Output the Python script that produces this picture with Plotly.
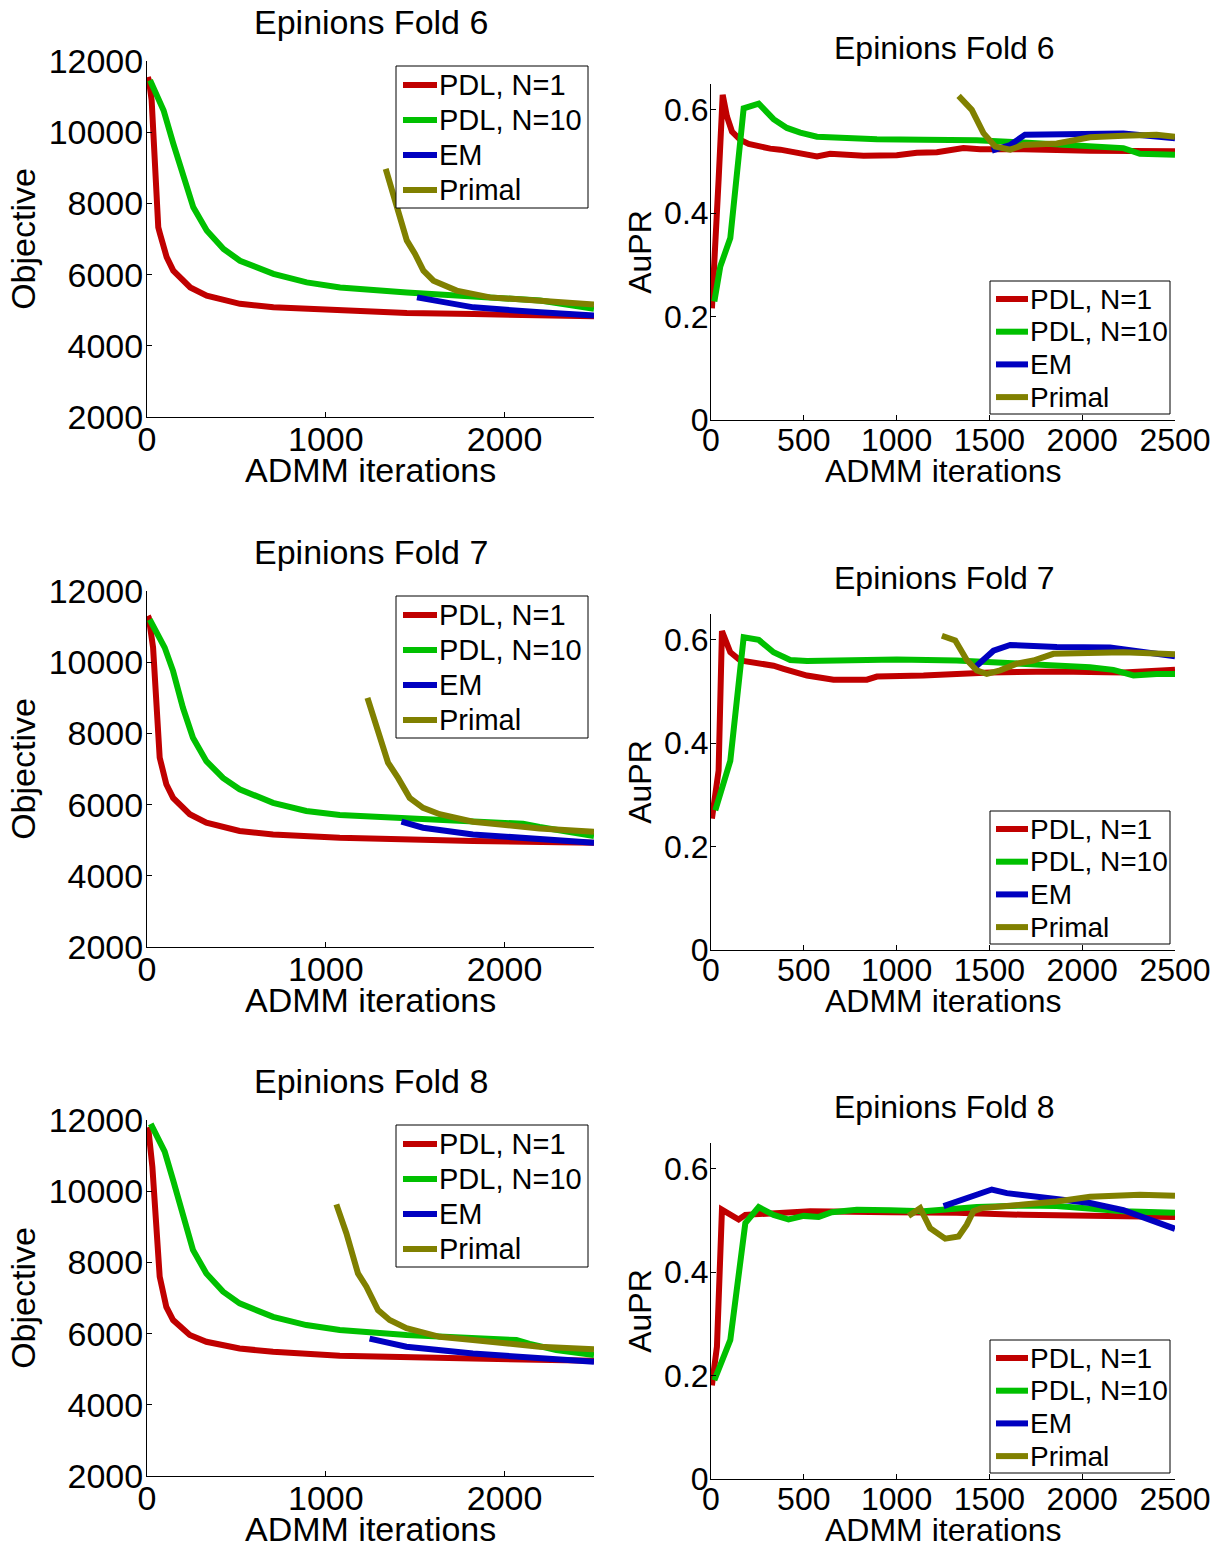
import plotly.graph_objects as go

# ---------------- data ----------------
SERIES_NAMES = ["PDL, N=1", "PDL, N=10", "EM", "Primal"]
COLORS = ["#c00000", "#00c000", "#0000c0", "#808000"]
FOLDS = ["Epinions Fold 6", "Epinions Fold 7", "Epinions Fold 8"]
X_TITLE = "ADMM iterations"
Y_TITLES = ["Objective", "AuPR"]

OBJ_TICKS = [2000, 4000, 6000, 8000, 10000, 12000]
OBJ_TICKLABELS = ["2000", "4000", "6000", "8000", "10000", "12000"]
OBJ_XTICKS = [0, 1000, 2000]
AUPR_TICKS = [0, 0.2, 0.4, 0.6]
AUPR_TICKLABELS = ["0", "0.2", "0.4", "0.6"]
AUPR_XTICKS = [0, 500, 1000, 1500, 2000, 2500]

# ---- Fold 6, objective ----
OBJ6_PDL1_IT = [5, 11, 26, 45, 54, 63, 73, 110, 147, 242, 334, 520, 707, 1080, 1453, 1826, 2500]
OBJ6_PDL1 = [11550, 11450, 10900, 9020, 8080, 7330, 7140, 6490, 6110, 5640, 5410, 5180, 5080, 4990, 4920, 4890, 4830]
OBJ6_PDL10_IT = [17, 93, 147, 203, 259, 334, 428, 520, 707, 893, 1080, 1453, 1826, 2199, 2500]
OBJ6_PDL10 = [11460, 10610, 9680, 8740, 7890, 7240, 6720, 6390, 6020, 5780, 5640, 5500, 5380, 5270, 5040]
OBJ6_EM_IT = [1510, 1826, 2199, 2500]
OBJ6_EM = [5360, 5080, 4940, 4850]
OBJ6_PRIMAL_IT = [1335, 1396, 1453, 1499, 1546, 1602, 1732, 1918, 2199, 2500]
OBJ6_PRIMAL = [8970, 7890, 6960, 6580, 6110, 5830, 5550, 5360, 5250, 5160]

# ---- Fold 7, objective ----
OBJ7_PDL1_IT = [5, 10, 34, 49, 71, 108, 146, 239, 332, 518, 705, 1078, 1451, 1823, 2500]
OBJ7_PDL1 = [11300, 11250, 10410, 9000, 7320, 6570, 6190, 5730, 5490, 5260, 5160, 5070, 5020, 4980, 4930]
OBJ7_PDL10_IT = [15, 99, 146, 201, 257, 332, 425, 518, 705, 891, 1078, 1451, 1823, 2103, 2196, 2500]
OBJ7_PDL10 = [11200, 10410, 9750, 8720, 7880, 7220, 6750, 6430, 6050, 5820, 5710, 5610, 5520, 5460, 5370, 5120]
OBJ7_EM_IT = [1423, 1544, 1823, 2196, 2500]
OBJ7_EM = [5520, 5350, 5160, 5020, 4930]
OBJ7_PRIMAL_IT = [1233, 1283, 1348, 1404, 1469, 1544, 1637, 1823, 2010, 2196, 2500]
OBJ7_PRIMAL = [9000, 8160, 7180, 6750, 6190, 5910, 5730, 5520, 5420, 5330, 5240]

# ---- Fold 8, objective ----
OBJ8_PDL1_IT = [5, 7, 30, 49, 71, 108, 146, 239, 332, 518, 705, 1078, 1451, 1823, 2500]
OBJ8_PDL1 = [11800, 11770, 10690, 9000, 7600, 6750, 6380, 5960, 5770, 5580, 5490, 5380, 5330, 5300, 5240]
OBJ8_PDL10_IT = [21, 99, 146, 201, 257, 332, 425, 518, 705, 891, 1078, 1451, 1823, 2066, 2140, 2289, 2500]
OBJ8_PDL10 = [11890, 11110, 10310, 9280, 8350, 7690, 7180, 6850, 6470, 6240, 6100, 5960, 5880, 5820, 5710, 5540, 5400]
OBJ8_EM_IT = [1245, 1451, 1823, 2196, 2500]
OBJ8_EM = [5860, 5630, 5440, 5300, 5210]
OBJ8_PRIMAL_IT = [1059, 1115, 1180, 1227, 1292, 1357, 1451, 1637, 1823, 2010, 2196, 2500]
OBJ8_PRIMAL = [9630, 8820, 7690, 7320, 6660, 6380, 6150, 5910, 5820, 5720, 5630, 5560]

# ---- Fold 6, AuPR ----
AUPR6_PDL1_IT = [5, 14, 41, 63, 86, 113, 158, 203, 248, 319, 373, 427, 499, 571, 642, 732, 822, 1001, 1109, 1217, 1289, 1360, 1450, 1683, 2042, 2500]
AUPR6_PDL1 = [0.216, 0.271, 0.465, 0.629, 0.587, 0.558, 0.542, 0.534, 0.530, 0.525, 0.523, 0.519, 0.515, 0.510, 0.515, 0.512, 0.511, 0.512, 0.517, 0.518, 0.521, 0.526, 0.524, 0.524, 0.521, 0.520]
AUPR6_PDL10_IT = [18, 50, 104, 140, 176, 257, 337, 409, 481, 571, 714, 894, 1145, 1432, 1683, 1863, 2222, 2311, 2500]
AUPR6_PDL10 = [0.229, 0.297, 0.352, 0.465, 0.603, 0.612, 0.582, 0.565, 0.556, 0.548, 0.545, 0.543, 0.542, 0.541, 0.537, 0.534, 0.526, 0.515, 0.513]
AUPR6_EM_IT = [1513, 1612, 1692, 1863, 2222, 2500]
AUPR6_EM = [0.521, 0.532, 0.552, 0.552, 0.554, 0.545]
AUPR6_PRIMAL_IT = [1334, 1405, 1468, 1531, 1612, 1683, 1863, 2042, 2222, 2401, 2500]
AUPR6_PRIMAL = [0.627, 0.600, 0.555, 0.529, 0.523, 0.532, 0.535, 0.547, 0.550, 0.552, 0.548]

# ---- Fold 7, AuPR ----
AUPR7_PDL1_IT = [5, 41, 59, 104, 158, 248, 337, 391, 517, 660, 840, 894, 1145, 1504, 1863, 2222, 2365, 2500]
AUPR7_PDL1 = [0.254, 0.347, 0.617, 0.576, 0.560, 0.555, 0.550, 0.544, 0.531, 0.523, 0.523, 0.529, 0.531, 0.537, 0.539, 0.537, 0.541, 0.542]
AUPR7_PDL10_IT = [23, 104, 176, 257, 337, 427, 517, 786, 1001, 1324, 1683, 2042, 2168, 2276, 2401, 2500]
AUPR7_PDL10 = [0.270, 0.366, 0.605, 0.600, 0.576, 0.561, 0.559, 0.560, 0.562, 0.560, 0.554, 0.547, 0.542, 0.531, 0.534, 0.534]
AUPR7_EM_IT = [1423, 1522, 1612, 1863, 2150, 2500]
AUPR7_EM = [0.547, 0.579, 0.590, 0.586, 0.585, 0.568]
AUPR7_PRIMAL_IT = [1244, 1316, 1378, 1432, 1486, 1558, 1647, 1737, 1845, 2042, 2222, 2500]
AUPR7_PRIMAL = [0.608, 0.599, 0.561, 0.541, 0.534, 0.541, 0.554, 0.560, 0.573, 0.576, 0.576, 0.572]

# ---- Fold 8, AuPR ----
AUPR8_PDL1_IT = [5, 32, 59, 149, 185, 337, 535, 966, 1324, 1683, 2042, 2500]
AUPR8_PDL1 = [0.181, 0.256, 0.521, 0.502, 0.511, 0.513, 0.518, 0.516, 0.515, 0.511, 0.509, 0.507]
AUPR8_PDL10_IT = [18, 104, 185, 257, 337, 418, 499, 580, 651, 786, 966, 1145, 1432, 1683, 1863, 2222, 2500]
AUPR8_PDL10 = [0.191, 0.269, 0.495, 0.526, 0.511, 0.502, 0.509, 0.507, 0.516, 0.521, 0.520, 0.518, 0.526, 0.529, 0.528, 0.518, 0.515]
AUPR8_EM_IT = [1253, 1342, 1432, 1513, 1594, 1773, 2042, 2222, 2365, 2500]
AUPR8_EM = [0.528, 0.539, 0.553, 0.560, 0.553, 0.546, 0.534, 0.520, 0.502, 0.484]
AUPR8_PRIMAL_IT = [1064, 1127, 1181, 1262, 1334, 1378, 1414, 1459, 1683, 1863, 2042, 2311, 2500]
AUPR8_PRIMAL = [0.509, 0.524, 0.485, 0.465, 0.469, 0.492, 0.518, 0.524, 0.531, 0.537, 0.546, 0.550, 0.548]

OBJ_DATA = [
    [(OBJ6_PDL1_IT, OBJ6_PDL1), (OBJ6_PDL10_IT, OBJ6_PDL10), (OBJ6_EM_IT, OBJ6_EM), (OBJ6_PRIMAL_IT, OBJ6_PRIMAL)],
    [(OBJ7_PDL1_IT, OBJ7_PDL1), (OBJ7_PDL10_IT, OBJ7_PDL10), (OBJ7_EM_IT, OBJ7_EM), (OBJ7_PRIMAL_IT, OBJ7_PRIMAL)],
    [(OBJ8_PDL1_IT, OBJ8_PDL1), (OBJ8_PDL10_IT, OBJ8_PDL10), (OBJ8_EM_IT, OBJ8_EM), (OBJ8_PRIMAL_IT, OBJ8_PRIMAL)],
]
AUPR_DATA = [
    [(AUPR6_PDL1_IT, AUPR6_PDL1), (AUPR6_PDL10_IT, AUPR6_PDL10), (AUPR6_EM_IT, AUPR6_EM), (AUPR6_PRIMAL_IT, AUPR6_PRIMAL)],
    [(AUPR7_PDL1_IT, AUPR7_PDL1), (AUPR7_PDL10_IT, AUPR7_PDL10), (AUPR7_EM_IT, AUPR7_EM), (AUPR7_PRIMAL_IT, AUPR7_PRIMAL)],
    [(AUPR8_PDL1_IT, AUPR8_PDL1), (AUPR8_PDL10_IT, AUPR8_PDL10), (AUPR8_EM_IT, AUPR8_EM), (AUPR8_PRIMAL_IT, AUPR8_PRIMAL)],
]

# ---------------- layout geometry (pixels) ----------------
W, H = 1218, 1546
FONT = "Liberation Sans, Arial, Helvetica, sans-serif"
FS_L = 34   # left column text size
FS_R = 32   # right column text size
ROW_OFF = [0, 530, 1059]
LEFT_X = (147, 594)
LEFT_Y = (61, 417)
RIGHT_X = (711, 1175)
RIGHT_Y = (84, 420)
# legend boxes: (x0, y0, x1, y1, first-entry y, entry step, sample x0, sample x1, text x, font size)
LEG_LEFT = (396, 66, 588, 208, 85, 35, 403, 437, 437, 29)
LEG_RIGHT = (990, 281, 1170, 414, 299, 32.7, 996, 1028, 1028, 28)

def px(x):
    return x / W

def py(y):
    return 1 - y / H

fig = go.Figure()
annotations = []
shapes = []
layout = dict(
    width=W, height=H,
    margin=dict(l=0, r=0, t=0, b=0),
    paper_bgcolor="white", plot_bgcolor="white",
    font=dict(family=FONT, size=FS_L, color="black"),
    showlegend=False,
)

def axis_common(fs):
    return dict(
        showline=True, linecolor="black", linewidth=1, mirror=False,
        ticks="inside", ticklen=5, tickwidth=1, tickcolor="black",
        showgrid=False, zeroline=False, automargin=False,
        tickfont=dict(family=FONT, size=fs, color="black"),
    )

def text_ann(text, x, y, fs, xanchor="center"):
    return dict(text=text, x=px(x), y=py(y), xref="paper", yref="paper",
                xanchor=xanchor, yanchor="middle", showarrow=False,
                font=dict(family=FONT, size=fs, color="black"))

for r in range(3):
    off = ROW_OFF[r]
    for c in range(2):
        idx = r * 2 + c + 1
        xa = "xaxis" if idx == 1 else f"xaxis{idx}"
        ya = "yaxis" if idx == 1 else f"yaxis{idx}"
        xref = "x" if idx == 1 else f"x{idx}"
        yref = "y" if idx == 1 else f"y{idx}"
        if c == 0:
            fs = FS_L
            xd = [px(LEFT_X[0]), px(LEFT_X[1])]
            yd = [py(LEFT_Y[1] + off), py(LEFT_Y[0] + off)]
            layout[xa] = dict(axis_common(fs), domain=xd, anchor=yref, range=[0, 2500],
                              tickvals=OBJ_XTICKS, ticklabelstandoff=-8)
            layout[ya] = dict(axis_common(fs), domain=yd, anchor=xref, range=[2000, 12000],
                              tickvals=OBJ_TICKS, ticktext=OBJ_TICKLABELS, ticklabelstandoff=-4,
                              title=dict(text=Y_TITLES[0], font=dict(size=fs), standoff=2))
            data = OBJ_DATA[r]
            title_xy = ((LEFT_X[0] + LEFT_X[1]) / 2, 22 + off)
            xtitle_xy = (370, 470 + off)
            leg = LEG_LEFT
        else:
            fs = FS_R
            xd = [px(RIGHT_X[0]), px(RIGHT_X[1])]
            yd = [py(RIGHT_Y[1] + off), py(RIGHT_Y[0] + off)]
            layout[xa] = dict(axis_common(fs), domain=xd, anchor=yref, range=[0, 2500],
                              tickvals=AUPR_XTICKS, ticklabelstandoff=-8)
            layout[ya] = dict(axis_common(fs), domain=yd, anchor=xref, range=[0, 0.65],
                              tickvals=AUPR_TICKS, ticktext=AUPR_TICKLABELS, ticklabelstandoff=-5,
                              title=dict(text=Y_TITLES[1], font=dict(size=fs), standoff=2))
            data = AUPR_DATA[r]
            title_xy = (944, 48 + off)
            xtitle_xy = (943, 471 + off)
            leg = LEG_RIGHT
        for k, (its, vals) in enumerate(data):
            fig.add_trace(go.Scatter(
                x=its, y=vals, mode="lines", name=SERIES_NAMES[k],
                line=dict(color=COLORS[k], width=6),
                xaxis=xref, yaxis=yref, showlegend=False,
            ))
        annotations.append(text_ann(FOLDS[r], title_xy[0], title_xy[1], fs))
        annotations.append(text_ann(X_TITLE, xtitle_xy[0], xtitle_xy[1], fs))
        # legend box (MATLAB style)
        x0, y0, x1, y1, ey, es, sx0, sx1, tx, lfs = leg
        shapes.append(dict(type="rect", xref="paper", yref="paper",
                           x0=px(x0), x1=px(x1), y0=py(y0 + off), y1=py(y1 + off),
                           line=dict(color="black", width=1), fillcolor="white", layer="above"))
        for k in range(4):
            yy = ey + off + k * es
            shapes.append(dict(type="line", xref="paper", yref="paper",
                               x0=px(sx0), x1=px(sx1), y0=py(yy), y1=py(yy),
                               line=dict(color=COLORS[k], width=6), layer="above"))
            annotations.append(text_ann(SERIES_NAMES[k], tx, yy, lfs, xanchor="left"))

layout["annotations"] = annotations
layout["shapes"] = shapes
fig.update_layout(**layout)
fig.write_html(
    "out.html",
    config={"displayModeBar": False},
    post_script="document.body.style.margin='0';document.body.style.padding='0';document.body.style.overflow='hidden';",
)
